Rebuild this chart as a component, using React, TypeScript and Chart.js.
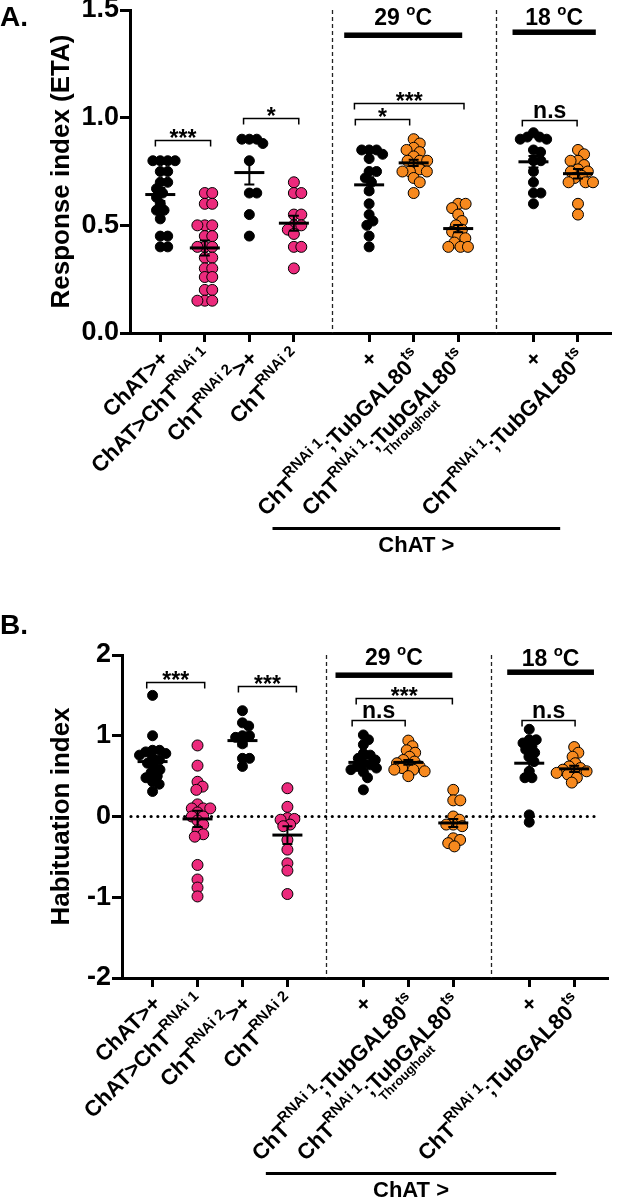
import React, { useEffect, useRef } from 'react';
import { Chart, registerables } from 'chart.js';
Chart.register(...registerables);

const FONT = '"Liberation Sans", Arial, Helvetica, sans-serif';
const BLACK = '#000000';
const PINK = '#EC2A7C';
const ORANGE = '#F7891E';

// ---------- categories ----------
const groupPos = [0, 1, 2, 3, 4.69, 5.69, 6.69, 8.38, 9.38];
const groupColors = [BLACK, PINK, BLACK, PINK, BLACK, ORANGE, ORANGE, BLACK, ORANGE];

type Seg = { t: string; k?: 'sup'; under?: string };
const xLabels: Seg[][] = [
  [{ t: 'ChAT>+' }],
  [{ t: 'ChAT>ChT' }, { t: 'RNAi 1', k: 'sup' }],
  [{ t: 'ChT' }, { t: 'RNAi 2', k: 'sup' }, { t: '>+' }],
  [{ t: 'ChT' }, { t: 'RNAi 2', k: 'sup' }],
  [{ t: '+' }],
  [{ t: 'ChT' }, { t: 'RNAi 1', k: 'sup' }, { t: ';TubGAL80' }, { t: 'ts', k: 'sup' }],
  [{ t: 'ChT' }, { t: 'RNAi 1', k: 'sup' }, { t: ';TubGAL80', under: 'Throughout' }, { t: 'ts', k: 'sup' }],
  [{ t: '+' }],
  [{ t: 'ChT' }, { t: 'RNAi 1', k: 'sup' }, { t: ';TubGAL80' }, { t: 'ts', k: 'sup' }],
];

// ---------- Panel A: Response index (ETA) ----------
const responseA: number[][] = [
  [0.80, 0.80, 0.80, 0.80, 0.75, 0.75, 0.70, 0.70, 0.67, 0.65, 0.63, 0.60, 0.57, 0.57, 0.53, 0.45, 0.45, 0.40, 0.40],
  [0.65, 0.65, 0.60, 0.60, 0.50, 0.50, 0.50, 0.45, 0.45, 0.40, 0.40, 0.40, 0.35, 0.35, 0.30, 0.30, 0.26, 0.26, 0.20, 0.20, 0.15, 0.15, 0.15],
  [0.90, 0.90, 0.90, 0.88, 0.80, 0.65, 0.65, 0.55, 0.45],
  [0.70, 0.65, 0.65, 0.55, 0.55, 0.50, 0.50, 0.48, 0.46, 0.40, 0.40, 0.30],
  [0.85, 0.85, 0.85, 0.83, 0.81, 0.75, 0.75, 0.72, 0.70, 0.66, 0.60, 0.55, 0.52, 0.50, 0.45, 0.40],
  [0.90, 0.88, 0.86, 0.85, 0.84, 0.82, 0.80, 0.80, 0.80, 0.78, 0.76, 0.75, 0.75, 0.75, 0.72, 0.70, 0.65],
  [0.60, 0.60, 0.58, 0.55, 0.52, 0.50, 0.48, 0.47, 0.45, 0.44, 0.42, 0.40, 0.40, 0.40],
  [0.93, 0.91, 0.91, 0.90, 0.90, 0.85, 0.84, 0.80, 0.80, 0.75, 0.70, 0.65, 0.65, 0.60],
  [0.85, 0.83, 0.80, 0.80, 0.78, 0.76, 0.75, 0.75, 0.73, 0.72, 0.70, 0.70, 0.70, 0.60, 0.55],
];
const meanA = [0.643, 0.395, 0.745, 0.51, 0.688, 0.79, 0.485, 0.795, 0.74];
const semA = [0.03, 0.035, 0.055, 0.035, 0.035, 0.015, 0.017, 0.027, 0.022];
const yTicksA = [0, 0.5, 1.0, 1.5];

// ---------- Panel B: Habituation index ----------
const habituationB: number[][] = [
  [1.50, 1.00, 0.82, 0.82, 0.80, 0.78, 0.76, 0.72, 0.70, 0.66, 0.62, 0.58, 0.54, 0.50, 0.48, 0.43, 0.40, 0.31],
  [0.88, 0.63, 0.43, 0.37, 0.33, 0.15, 0.10, 0.10, 0.10, 0.05, 0.00, 0.00, -0.05, -0.10, -0.17, -0.22, -0.25, -0.60, -0.78, -0.88, -0.99],
  [1.31, 1.16, 1.12, 1.00, 1.00, 0.98, 0.90, 0.72, 0.72, 0.62],
  [0.35, 0.12, -0.02, -0.03, -0.04, -0.10, -0.12, -0.29, -0.41, -0.58, -0.67, -0.96],
  [1.01, 0.95, 0.89, 0.78, 0.76, 0.72, 0.70, 0.66, 0.64, 0.62, 0.60, 0.58, 0.55, 0.48, 0.33],
  [0.94, 0.87, 0.82, 0.79, 0.74, 0.70, 0.68, 0.66, 0.64, 0.62, 0.60, 0.58, 0.58, 0.56, 0.50],
  [0.33, 0.20, 0.20, 0.00, -0.04, -0.10, -0.10, -0.12, -0.27, -0.29, -0.33, -0.37],
  [1.08, 0.95, 0.95, 0.91, 0.87, 0.83, 0.79, 0.74, 0.68, 0.56, 0.48, 0.48, 0.02, -0.07],
  [0.86, 0.79, 0.74, 0.66, 0.62, 0.60, 0.58, 0.56, 0.56, 0.54, 0.52, 0.48, 0.42],
];
const meanB = [0.68, -0.03, 0.94, -0.23, 0.67, 0.67, -0.08, 0.66, 0.59];
const semB = [0.06, 0.10, 0.07, 0.11, 0.05, 0.03, 0.05, 0.09, 0.04];
const yTicksB = [-2, -1, 0, 1, 2];

// ---------- annotations ----------
type Bracket = { x1: number; x2: number; y: number; text: string };
const bracketsA: Bracket[] = [
  { x1: -0.11, x2: 1.13, y: 0.896, text: '***' },
  { x1: 1.87, x2: 3.11, y: 0.997, text: '*' },
  { x1: 4.36, x2: 6.82, y: 1.067, text: '***' },
  { x1: 4.38, x2: 5.6, y: 0.994, text: '*' },
  { x1: 8.13, x2: 9.36, y: 0.99, text: 'n.s' },
];
const bracketsB: Bracket[] = [
  { x1: -0.13, x2: 1.16, y: 1.665, text: '***' },
  { x1: 1.91, x2: 3.2, y: 1.61, text: '***' },
  { x1: 4.53, x2: 6.67, y: 1.47, text: '***' },
  { x1: 4.44, x2: 5.62, y: 1.2, text: 'n.s' },
  { x1: 8.22, x2: 9.4, y: 1.2, text: 'n.s' },
];
type Temp = { label: string; x1: number; x2: number; barY: number; textY: number };
const tempsA: Temp[] = [
  { label: '29', x1: 4.13, x2: 6.78, barY: 1.384, textY: 1.43 },
  { label: '18', x1: 7.91, x2: 9.78, barY: 1.398, textY: 1.43 },
];
const tempsB: Temp[] = [
  { label: '29', x1: 4.07, x2: 6.67, barY: 1.753, textY: 1.88 },
  { label: '18', x1: 7.89, x2: 9.82, barY: 1.79, textY: 1.86 },
];
const dividers = [3.85, 7.54];
const driverSpan = [2.52, 8.98];
const driverLabel = 'ChAT >';

// ---------- helpers ----------
function swarm(values: number[], pxPerUnit: number, d: number): number[] {
  const order = values.map((_, i) => i).sort((a, b) => values[b] - values[a]);
  const placed: { x: number; y: number }[] = [];
  const out = new Array(values.length).fill(0);
  for (const i of order) {
    const y = values[i] * pxPerUnit;
    const cands = [0];
    for (const p of placed) {
      const dy = Math.abs(p.y - y);
      if (dy < d) {
        const dx = Math.sqrt(d * d - dy * dy);
        cands.push(p.x + dx + 0.01, p.x - dx - 0.01);
      }
    }
    cands.sort((a, b) => Math.abs(a) - Math.abs(b) || b - a);
    let chosen = 0;
    for (const c of cands) {
      if (placed.every((p) => (p.x - c) ** 2 + (p.y - y) ** 2 >= d * d - 0.05)) {
        chosen = c;
        break;
      }
    }
    placed.push({ x: chosen, y });
    out[i] = chosen;
  }
  return out;
}

function drawRich(ctx: CanvasRenderingContext2D, segs: Seg[], ax: number, ay: number) {
  const main = 22, sup = 15, under = 13;
  const mainFont = `bold ${main}px ${FONT}`;
  const supFont = `bold ${sup}px ${FONT}`;
  ctx.save();
  ctx.translate(ax, ay);
  ctx.rotate(-Math.PI / 4);
  let total = 0;
  const ws = segs.map((s) => {
    ctx.font = s.k ? supFont : mainFont;
    const w = ctx.measureText(s.t).width;
    total += w;
    return w;
  });
  let x = -total;
  ctx.textAlign = 'left';
  ctx.textBaseline = 'alphabetic';
  ctx.fillStyle = BLACK;
  const base = main * 0.36;
  segs.forEach((s, i) => {
    ctx.font = s.k ? supFont : mainFont;
    const dy = s.k === 'sup' ? -main * 0.5 : 0;
    ctx.fillText(s.t, x, base + dy);
    if (s.under) {
      ctx.font = `bold ${under}px ${FONT}`;
      ctx.fillText(s.under, x + 6, base + 13);
    }
    x += ws[i];
  });
  ctx.restore();
}

function drawTemp(ctx: CanvasRenderingContext2D, label: string, cx: number, baseY: number) {
  const big = `bold 23px ${FONT}`;
  const small = `bold 15px ${FONT}`;
  ctx.font = big;
  const w1 = ctx.measureText(label + ' ').width;
  const w3 = ctx.measureText('C').width;
  ctx.font = small;
  const w2 = ctx.measureText('o').width;
  let x = cx - (w1 + w2 + w3) / 2;
  ctx.textAlign = 'left';
  ctx.textBaseline = 'alphabetic';
  ctx.fillStyle = BLACK;
  ctx.font = big;
  ctx.fillText(label + ' ', x, baseY);
  x += w1;
  ctx.font = small;
  ctx.fillText('o', x, baseY - 10);
  x += w2;
  ctx.font = big;
  ctx.fillText('C', x, baseY);
}

type PanelCfg = {
  top: number;
  height: number;
  left: number;
  right: number;
  areaTop: number;
  areaBottom: number;
  yMin: number;
  yMax: number;
  yTicks: number[];
  decimals: number;
  values: number[][];
  means: number[];
  sems: number[];
  brackets: Bracket[];
  temps: Temp[];
  letter: string;
  letterY: number;
  yTitle: string;
  zeroLine: boolean;
  swarmD: number;
};

const X_MIN = -0.68;
const X_MAX = 10.11;

function Panel({ cfg }: { cfg: PanelCfg }) {
  const ref = useRef<HTMLCanvasElement | null>(null);
  useEffect(() => {
    const canvas = ref.current;
    if (!canvas) return;
    const W = 617;
    const slotPx = (cfg.right - cfg.left) / (X_MAX - X_MIN);
    const yPx = (cfg.areaBottom - cfg.areaTop) / (cfg.yMax - cfg.yMin);
    const datasets = cfg.values.map((vals, g) => {
      const offs = swarm(vals, yPx, cfg.swarmD);
      return {
        data: vals.map((v, i) => ({ x: groupPos[g] + offs[i] / slotPx, y: v })),
        backgroundColor: groupColors[g],
        borderColor: BLACK,
        borderWidth: 1,
        pointRadius: groupColors[g] === BLACK ? 5 : 5.5,
        pointHoverRadius: 5,
        clip: false as any,
      };
    });

    const plugin = {
      id: 'decor',
      beforeDatasetsDraw(chart: any) {
        const ctx: CanvasRenderingContext2D = chart.ctx;
        const xs = chart.scales.x, ys = chart.scales.y;
        const ca = chart.chartArea;
        ctx.save();
        ctx.strokeStyle = '#222';
        ctx.lineWidth = 1.3;
        ctx.setLineDash([4, 3]);
        dividers.forEach((d) => {
          const px = Math.round(xs.getPixelForValue(d)) + 0.5;
          ctx.beginPath();
          ctx.moveTo(px, ca.top);
          ctx.lineTo(px, ca.bottom);
          ctx.stroke();
        });
        if (cfg.zeroLine) {
          ctx.strokeStyle = BLACK;
          ctx.lineWidth = 3.2;
          ctx.lineCap = 'round';
          ctx.setLineDash([0.01, 6.7]);
          const py = ys.getPixelForValue(0);
          ctx.beginPath();
          ctx.moveTo(ca.left + 9, py);
          ctx.lineTo(ca.right - 8, py);
          ctx.stroke();
        }
        ctx.restore();
      },
      afterDatasetsDraw(chart: any) {
        const ctx: CanvasRenderingContext2D = chart.ctx;
        const xs = chart.scales.x, ys = chart.scales.y;
        ctx.save();
        ctx.strokeStyle = BLACK;
        ctx.fillStyle = BLACK;
        // mean +/- SEM
        cfg.means.forEach((m, g) => {
          const cx = xs.getPixelForValue(groupPos[g]);
          const my = ys.getPixelForValue(m);
          const hi = ys.getPixelForValue(m + cfg.sems[g]);
          const lo = ys.getPixelForValue(m - cfg.sems[g]);
          ctx.lineWidth = 2;
          ctx.beginPath();
          ctx.moveTo(cx, hi);
          ctx.lineTo(cx, lo);
          ctx.moveTo(cx - 5, hi);
          ctx.lineTo(cx + 5, hi);
          ctx.moveTo(cx - 5, lo);
          ctx.lineTo(cx + 5, lo);
          ctx.stroke();
          ctx.lineWidth = 3;
          ctx.beginPath();
          ctx.moveTo(cx - 15, my);
          ctx.lineTo(cx + 15, my);
          ctx.stroke();
        });
        // significance brackets
        cfg.brackets.forEach((b) => {
          const x1 = xs.getPixelForValue(b.x1);
          const x2 = xs.getPixelForValue(b.x2);
          const y = Math.round(ys.getPixelForValue(b.y)) + 0.5;
          ctx.lineWidth = 1.5;
          ctx.beginPath();
          ctx.moveTo(x1, y + 6);
          ctx.lineTo(x1, y);
          ctx.lineTo(x2, y);
          ctx.lineTo(x2, y + 6);
          ctx.stroke();
          ctx.font = `bold 23px ${FONT}`;
          ctx.textAlign = 'center';
          ctx.textBaseline = 'alphabetic';
          const isStar = b.text.indexOf('*') >= 0;
          ctx.fillText(b.text, (x1 + x2) / 2, isStar ? y + 5 : y - 3);
        });
        // temperature headers
        cfg.temps.forEach((t) => {
          const x1 = xs.getPixelForValue(t.x1);
          const x2 = xs.getPixelForValue(t.x2);
          const by = ys.getPixelForValue(t.barY);
          ctx.fillRect(x1, by - 2.5, x2 - x1, 5.5);
          drawTemp(ctx, t.label, (x1 + x2) / 2, ys.getPixelForValue(t.textY));
        });
        ctx.restore();
      },
      afterDraw(chart: any) {
        const ctx: CanvasRenderingContext2D = chart.ctx;
        const xs = chart.scales.x;
        const ca = chart.chartArea;
        ctx.save();
        xLabels.forEach((segs, g) => {
          const px = xs.getPixelForValue(groupPos[g]);
          drawRich(ctx, segs, px + 4, ca.bottom + 21);
        });
        // driver line + label
        const lx1 = xs.getPixelForValue(driverSpan[0]);
        const lx2 = xs.getPixelForValue(driverSpan[1]);
        ctx.fillStyle = BLACK;
        ctx.fillRect(lx1, ca.bottom + 194, lx2 - lx1, 3);
        ctx.font = `bold 22px ${FONT}`;
        ctx.textAlign = 'center';
        ctx.textBaseline = 'middle';
        ctx.fillText(driverLabel, (lx1 + lx2) / 2, ca.bottom + 213);
        // panel letter
        ctx.font = `bold 28px ${FONT}`;
        ctx.textAlign = 'left';
        ctx.textBaseline = 'alphabetic';
        ctx.fillText(cfg.letter, 0, cfg.letterY);
        // y title
        ctx.translate(62, (ca.top + ca.bottom) / 2);
        ctx.rotate(-Math.PI / 2);
        ctx.font = `bold 26px ${FONT}`;
        ctx.textAlign = 'center';
        ctx.textBaseline = 'middle';
        ctx.fillText(cfg.yTitle, 0, 0);
        ctx.restore();
      },
    };

    const chart = new Chart(canvas, {
      type: 'scatter',
      data: { datasets: datasets as any },
      options: {
        responsive: false,
        animation: false,
        events: [],
        layout: { padding: { top: cfg.areaTop, right: W - cfg.right, left: 0, bottom: 0 } },
        plugins: { legend: { display: false }, tooltip: { enabled: false } },
        scales: {
          x: {
            type: 'linear',
            min: X_MIN,
            max: X_MAX,
            afterFit: (s: any) => {
              s.height = cfg.height - cfg.areaBottom;
              s.paddingLeft = 0;
              s.paddingRight = 0;
            },
            afterBuildTicks: (s: any) => {
              s.ticks = groupPos.map((v) => ({ value: v }));
            },
            ticks: { display: false },
            grid: { drawOnChartArea: false, drawTicks: true, tickLength: 9, lineWidth: 3, color: BLACK },
            border: { display: true, width: 3, color: BLACK },
          },
          y: {
            type: 'linear',
            min: cfg.yMin,
            max: cfg.yMax,
            afterFit: (s: any) => {
              s.width = cfg.left;
              s.paddingTop = 0;
              s.paddingBottom = 0;
            },
            afterBuildTicks: (s: any) => {
              s.ticks = cfg.yTicks.map((v) => ({ value: v }));
            },
            ticks: {
              color: BLACK,
              padding: 1,
              font: { family: FONT, size: 27, weight: 'bold' },
              callback: (v: any) => Number(v).toFixed(cfg.decimals),
            },
            grid: { drawOnChartArea: false, drawTicks: true, tickLength: 10, lineWidth: 3, color: BLACK },
            border: { display: true, width: 3, color: BLACK },
          },
        },
      },
      plugins: [plugin],
    });
    return () => chart.destroy();
  }, [cfg]);

  return (
    <canvas
      ref={ref}
      width={617}
      height={cfg.height}
      style={{ position: 'absolute', left: 0, top: cfg.top, width: 617, height: cfg.height }}
    />
  );
}

const panelA: PanelCfg = {
  top: 0,
  height: 590,
  left: 130,
  right: 616,
  areaTop: 10,
  areaBottom: 333,
  yMin: 0,
  yMax: 1.5,
  yTicks: yTicksA,
  decimals: 1,
  values: responseA,
  means: meanA,
  sems: semA,
  brackets: bracketsA,
  temps: tempsA,
  letter: 'A.',
  letterY: 26,
  yTitle: 'Response index (ETA)',
  zeroLine: false,
  swarmD: 7.5,
};

const panelB: PanelCfg = {
  top: 590,
  height: 609,
  left: 122,
  right: 607,
  areaTop: 65,
  areaBottom: 388,
  yMin: -2,
  yMax: 2,
  yTicks: yTicksB,
  decimals: 0,
  values: habituationB,
  means: meanB,
  sems: semB,
  brackets: bracketsB,
  temps: tempsB,
  letter: 'B.',
  letterY: 44,
  yTitle: 'Habituation index',
  zeroLine: true,
  swarmD: 7,
};

export default function App() {
  return (
    <div style={{ position: 'absolute', left: 0, top: 0, width: 617, height: 1199, background: '#fff' }}>
      <Panel cfg={panelA} />
      <Panel cfg={panelB} />
    </div>
  );
}
